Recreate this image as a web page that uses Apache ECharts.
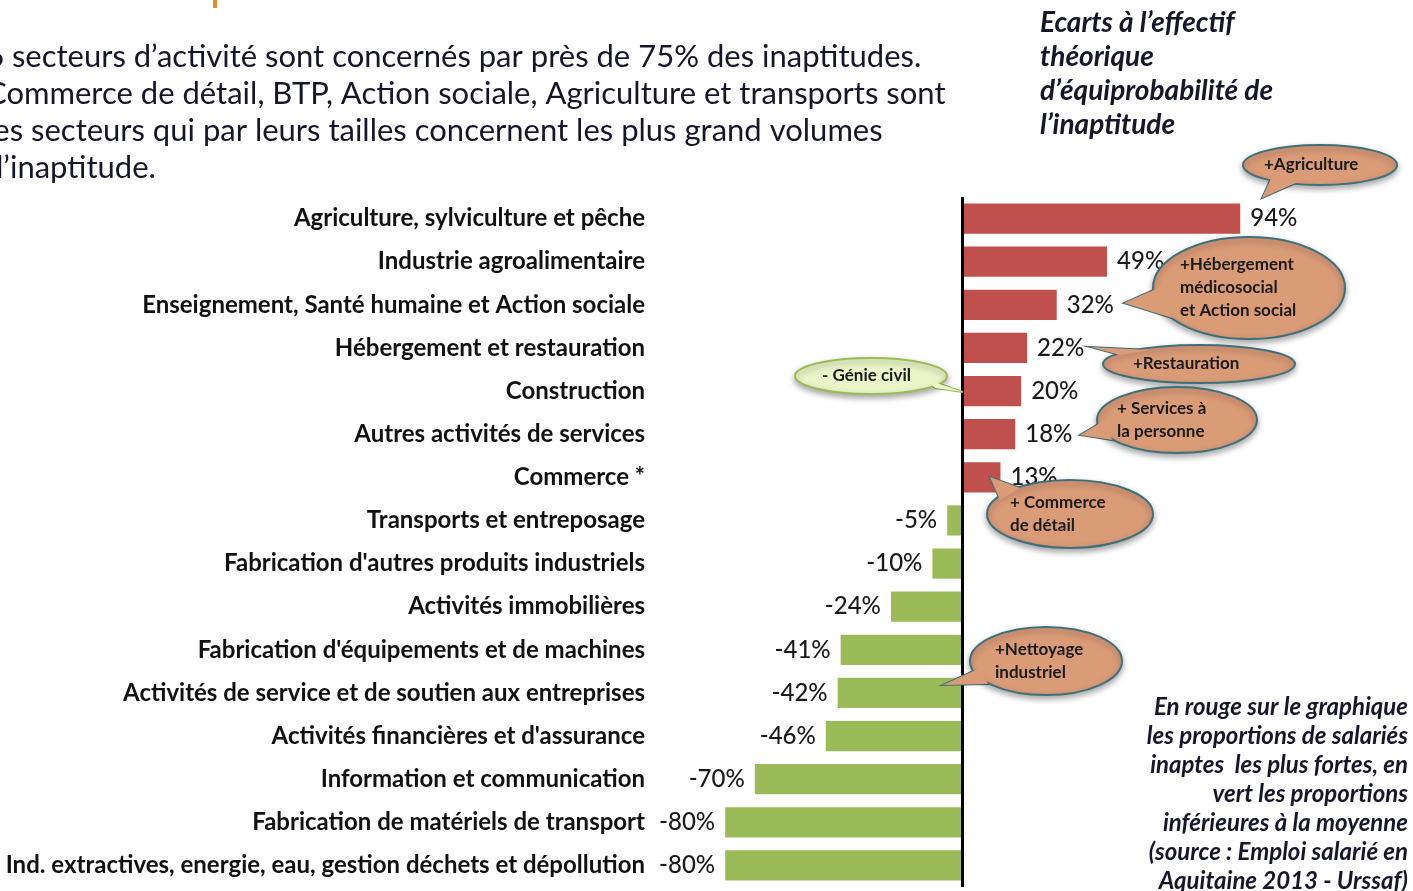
<!DOCTYPE html>
<html lang="fr">
<head>
<meta charset="UTF-8">
<title>Ecarts à l'effectif théorique</title>
<script src="https://cdn.jsdelivr.net/npm/echarts@6/dist/echarts.min.js"></script>
<style>
  html, body { margin: 0; padding: 0; background: #fff; }
  #container { width: 1413px; height: 891px; }
</style>
</head>
<body>
<div id="container"></div>
<script type="text/javascript">
// secteurs (haut -> bas) et écarts en %
var secteurs = [
  'Agriculture, sylviculture et pêche',
  'Industrie agroalimentaire',
  'Enseignement, Santé humaine et Action sociale',
  'Hébergement et restauration',
  'Construction',
  'Autres activités de services',
  'Commerce *',
  'Transports et entreposage',
  "Fabrication d'autres produits industriels",
  'Activités immobilières',
  "Fabrication d'équipements et de machines",
  'Activités de service et de soutien aux entreprises',
  "Activités financières et d'assurance",
  'Information et communication',
  'Fabrication de matériels de transport',
  'Ind. extractives, energie, eau, gestion déchets et dépollution'
];
var ecarts = [94, 49, 32, 22, 20, 18, 13, -5, -10, -24, -41, -42, -46, -70, -80, -80];

var texteHaut = [
  "6 secteurs d’activité sont concernés par près de 75% des inaptitudes.",
  "Commerce de détail, BTP, Action sociale, Agriculture et transports sont",
  "les secteurs qui par leurs tailles concernent les plus grand volumes",
  "d’inaptitude."
];
var titreDroite = ["Ecarts à l’effectif", "théorique", "d’équiprobabilité de", "l’inaptitude"];
var noteBas = [
  "En rouge sur le graphique",
  "les proportions de salariés",
  "inaptes  les plus fortes, en",
  "vert les proportions",
  "inférieures à la moyenne",
  "(source : Emploi salarié en",
  "Aquitaine 2013 - Urssaf)"
];

var ROUGE = '#c0504d', VERT = '#9bbb59';
var FONT = 'Lato, "Open Sans", sans-serif';

var dom = document.getElementById('container');
var myChart = echarts.init(dom);

var barData = ecarts.map(function (v) {
  return {
    value: v,
    itemStyle: { color: v >= 0 ? ROUGE : VERT },
    label: { position: v >= 0 ? 'right' : 'left' }
  };
});

// bulle : ellipse + pointe
function bulle(cx, cy, rx, ry, pointe, lignes, tx, fond, bord, taille) {
  var els = [];
  els.push({ type: 'polygon', z: 100, shape: { points: pointe },
    style: { fill: fond, stroke: bord, lineWidth: 2 } });
  els.push({ type: 'ellipse', z: 101, shape: { cx: cx, cy: cy, rx: rx, ry: ry },
    style: { fill: fond, stroke: bord, lineWidth: 2,
      shadowBlur: 6, shadowOffsetY: 3, shadowColor: 'rgba(0,0,0,0.35)' } });
  els.push({ type: 'polygon', z: 102, shape: { points: pointe },
    style: { fill: fond } });
  var n = lignes.length, lh = taille + 6;
  lignes.forEach(function (t, i) {
    els.push({ type: 'text', z: 103, x: tx, y: cy + (i - (n - 1) / 2) * lh,
      style: { text: t, fill: '#1a1a1a', font: 'bold ' + taille + 'px ' + FONT, verticalAlign: 'middle',
        align: 'left' } });
  });
  return els;
}

var ORANGE = '#da9b77', BORD = '#3f6f7b';
var graphics = [];
graphics.push({ type: 'rect', shape: { x: 213, y: 0, width: 4, height: 8 }, style: { fill: '#e8892b' } });
texteHaut.forEach(function (t, i) {
  graphics.push({ type: 'text', x: -14, y: 57 + i * 37,
    style: { text: t, fill: '#16162a', font: '31px ' + FONT, verticalAlign: 'middle' } });
});
titreDroite.forEach(function (t, i) {
  graphics.push({ type: 'text', x: 1040, y: 23 + i * 34,
    style: { text: t, fill: '#16162a', font: 'italic bold 28px ' + FONT, verticalAlign: 'middle' } });
});
noteBas.forEach(function (t, i) {
  graphics.push({ type: 'text', x: 1408, y: 707 + i * 29,
    style: { text: t, fill: '#16162a', font: 'italic bold 24px ' + FONT, align: 'right', verticalAlign: 'middle' } });
});

graphics = graphics
  .concat(bulle(1320, 165, 77, 20, [[1272, 176], [1298, 182], [1262, 198]], ['+Agriculture'], 1264, ORANGE, BORD, 17))
  .concat(bulle(1249, 288, 96, 51, [[1165, 285], [1172, 318], [1124, 303]], ['+Hébergement', 'médicosocial', 'et Action social'], 1180, ORANGE, BORD, 17))
  .concat(bulle(1199, 364, 96, 19, [[1120, 355], [1150, 350], [1090, 347]], ['+Restauration'], 1133, ORANGE, BORD, 17))
  .concat(bulle(1177, 420, 80, 33, [[1105, 420], [1112, 440], [1080, 435]], ['+ Services à', 'la personne'], 1117, ORANGE, BORD, 17))
  .concat(bulle(1070, 514, 83, 34, [[1000, 500], [1020, 488], [990, 477]], ['+ Commerce', 'de détail'], 1010, ORANGE, BORD, 17))
  .concat(bulle(1046, 661, 76, 34, [[980, 668], [988, 684], [943, 685]], ['+Nettoyage', 'industriel'], 995, ORANGE, BORD, 17))
  .concat(bulle(871, 376, 76, 18, [[928, 380], [935, 388], [963, 392]], ['- Génie civil'], 822, '#eaf5c8', VERT, 17));

var option = {
  animation: false,
  grid: { left: 666, right: 7, top: 197, bottom: 4, outerBoundsMode: 'none' },
  xAxis: {
    type: 'value', min: -100, max: 150, show: false,
    splitLine: { show: false }
  },
  yAxis: {
    type: 'category', inverse: true, data: secteurs,
    axisLine: { show: false }, axisTick: { show: false },
    axisLabel: { margin: 21, color: '#111', fontSize: 24, fontWeight: 'bold', fontFamily: FONT }
  },
  series: [{
    type: 'bar',
    data: barData,
    barCategoryGap: '30%',
    label: {
      show: true, distance: 10, color: '#1a1a1a', fontSize: 24, fontWeight: 500, fontFamily: FONT,
      formatter: function (p) { return p.value + '%'; }
    },
    markLine: {
      silent: true, symbol: 'none', label: { show: false },
      lineStyle: { color: '#000', width: 3, type: 'solid' },
      data: [{ xAxis: 0 }]
    }
  }],
  graphic: graphics
};

if (option && typeof option === 'object') {
  myChart.setOption(option, true);
}
</script>
</body>
</html>
